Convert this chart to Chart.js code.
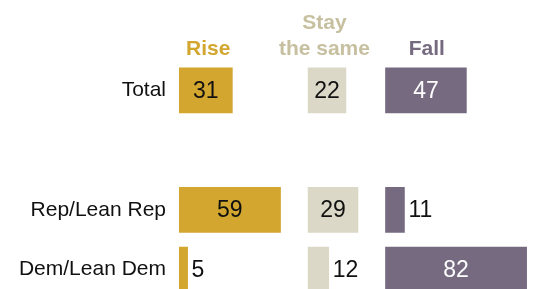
<!DOCTYPE html>
<html>
<head>
<meta charset="utf-8">
<script src="https://cdn.jsdelivr.net/npm/chart.js@4/dist/chart.umd.min.js"></script>
<style>
  html, body { margin: 0; padding: 0; background: #fff; overflow: hidden; }
  canvas { display: block; }
</style>
</head>
<body>
<canvas id="c" width="549" height="300" style="width:549px;height:300px"></canvas>
<script>
// ---- data ----
const categories = ['Total', '', 'Rep/Lean Rep', 'Dem/Lean Dem'];
const seriesNames = ['Rise', 'Stay the same', 'Fall'];
const rise = [31, null, 59, 5];
const stay = [22, null, 29, 12];
const fall = [47, null, 11, 82];

// ---- layout / style (not data) ----
const groupOffset = [0, 75, 120];          // where each column group starts on the x scale
const headingCenter = [17, 9.5, 24];       // heading centre relative to group start
const headingLines = [['Rise'], ['Stay', 'the same'], ['Fall']];
const barColors = ['#D2A62F', '#DCD8C7', '#766A80'];
const headColors = ['#D2A62F', '#C7C0A0', '#766A80'];
const labelColors = ['#111', '#111', '#fff'];
const FONT = "'Liberation Sans', Arial, sans-serif";

const values = [rise, stay, fall];
const datasets = values.map((vals, i) => ({
  label: seriesNames[i],
  data: vals.map(v => v == null ? null : [groupOffset[i], groupOffset[i] + v]),
  backgroundColor: barColors[i],
  borderWidth: 0,
  grouped: false,
  barThickness: 45
}));

const labelPlugin = {
  id: 'valueLabels',
  afterDatasetsDraw(chart) {
    const ctx = chart.ctx;
    const x = chart.scales.x;
    ctx.save();
    ctx.font = '23px ' + FONT;
    ctx.textBaseline = 'middle';
    chart.data.datasets.forEach((ds, i) => {
      const meta = chart.getDatasetMeta(i);
      meta.data.forEach((bar, j) => {
        const v = values[i][j];
        if (v == null) return;
        const x0 = x.getPixelForValue(groupOffset[i]);
        const x1 = x.getPixelForValue(groupOffset[i] + v);
        if (v >= 15) {
          ctx.fillStyle = labelColors[i];
          ctx.textAlign = 'center';
          ctx.fillText(String(v), (x0 + x1) / 2, bar.y + 1);
        } else {
          ctx.fillStyle = '#111';
          ctx.textAlign = 'left';
          ctx.fillText(String(v), x1 + 4, bar.y + 1);
        }
      });
    });
    // headings
    ctx.font = 'bold 21px ' + FONT;
    ctx.textAlign = 'center';
    ctx.textBaseline = 'alphabetic';
    headingLines.forEach((lines, i) => {
      const cx = x.getPixelForValue(groupOffset[i] + headingCenter[i]);
      ctx.fillStyle = headColors[i];
      const n = lines.length;
      lines.forEach((t, k) => {
        ctx.fillText(t, cx, 54.5 - (n - 1 - k) * 26);
      });
    });
    ctx.restore();
  }
};

new Chart(document.getElementById('c'), {
  type: 'bar',
  data: { labels: categories, datasets },
  options: {
    indexAxis: 'y',
    responsive: false,
    animation: false,
    events: [],
    layout: { padding: { top: 60.5, bottom: 0.5, left: 0, right: 0 } },
    plugins: { legend: { display: false }, tooltip: { enabled: false } },
    scales: {
      x: { display: false, min: 0, max: 215 },
      y: {
        offset: true,
        grid: { display: false, drawTicks: false },
        border: { display: false },
        ticks: { color: '#111', font: { family: FONT, size: 21 }, padding: 13 },
        afterFit(scale) {
          scale.width = 179;
          scale.paddingTop = 0;
          scale.paddingBottom = 0;
        }
      }
    }
  },
  plugins: [labelPlugin]
});
</script>
</body>
</html>
